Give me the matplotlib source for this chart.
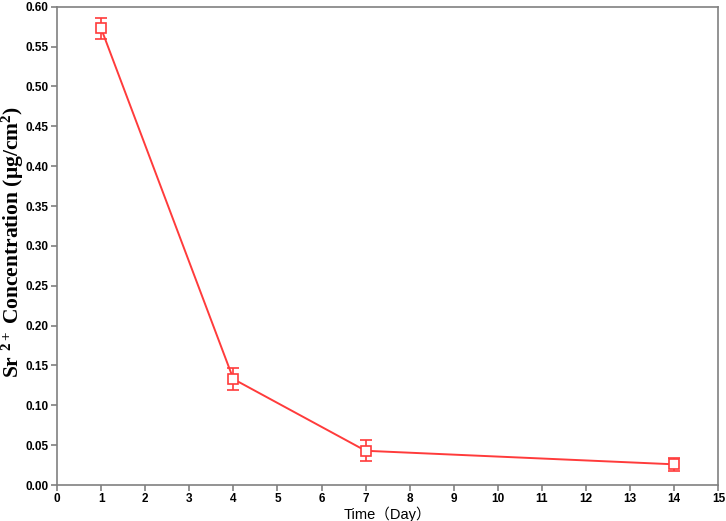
import matplotlib.pyplot as plt

# data
days = [1, 4, 7, 14]
conc = [0.573, 0.133, 0.043, 0.026]
err = [0.013, 0.014, 0.013, 0.008]

x_ticks = list(range(0, 16))
y_ticks = [i * 0.05 for i in range(13)]

plt.rcParams['mathtext.fontset'] = 'custom'
plt.rcParams['mathtext.rm'] = 'Liberation Serif:bold'
plt.rcParams['mathtext.it'] = 'Liberation Serif:bold'
plt.rcParams['mathtext.bf'] = 'Liberation Serif:bold'

fig = plt.figure(figsize=(7.26, 5.21), dpi=100)
ax = fig.add_axes([0.0785, 0.069, 0.911, 0.918])

ax.errorbar(days, conc, yerr=err, color='#ff3b3b', lw=1.4, marker='s', ms=7,
            mfc='white', mec='#ff3b3b', mew=1.2, capsize=4, elinewidth=1.2, capthick=1.2)

ax.set_xlim(0, 15)
ax.set_ylim(0, 0.6)
ax.set_xticks(x_ticks)
ax.set_yticks(y_ticks)
ax.set_yticklabels(['%.2f' % v for v in y_ticks])

for lab in ax.get_xticklabels() + ax.get_yticklabels():
    lab.set_fontfamily('Liberation Sans')
    lab.set_fontweight('bold')
    lab.set_fontsize(8.5)

for s in ax.spines.values():
    s.set_color('#808080')
    s.set_linewidth(1.2)
ax.tick_params(direction='out', length=4, width=1.2, color='#808080', pad=2)

ax.set_xlabel('Time（Day）', family=['Liberation Sans', 'Noto Sans CJK SC'], fontsize=10.5, labelpad=1)
fig.text(0.018, 0.535, r'Sr $^{2+}$ Concentration (μg/cm$^{2}$)', family='Liberation Serif',
         fontweight='bold', fontsize=15.5, rotation=90, ha='center', va='center')

plt.savefig('out.png')
